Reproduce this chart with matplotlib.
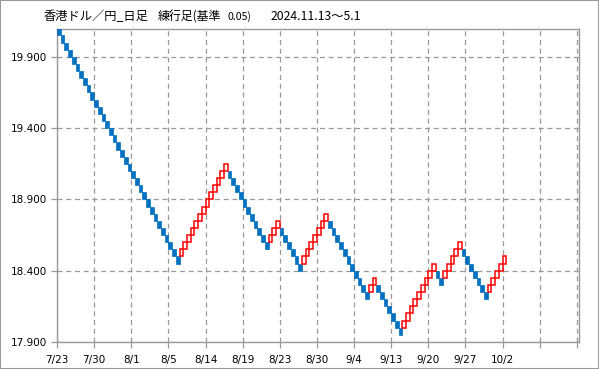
import matplotlib
matplotlib.use("Agg")
import matplotlib.pyplot as plt
from matplotlib.patches import Rectangle

# Renko bricks (0.05 per brick)
brick_size = 0.05
first_brick_low = 20.05
run_directions = [-1, 1, -1, 1, -1, 1, -1, 1, -1, 1, -1, 1, -1, 1]
run_lengths = [33, 13, 11, 3, 6, 7, 11, 2, 7, 9, 2, 5, 7, 5]

date_labels = ["7/23", "7/30", "8/1", "8/5", "8/14", "8/19", "8/23",
               "8/30", "9/4", "9/13", "9/20", "9/27", "10/2", "", ""]
y_ticks = [17.9, 18.4, 18.9, 19.4, 19.9]

# title pieces: (text, x pixel, size)
title_parts = [("香港ドル／円_日足", 44, 8.8),
               ("練行足(基準", 158, 8.6),
               ("0.05)", 228, 7.6),
               ("2024.11.13〜5.1", 271, 8.8)]

# build brick list: each brick moves one brick up or down from the last
lows, dirs = [], []
level = first_brick_low
for d, n in zip(run_directions, run_lengths):
    for k in range(n):
        if lows:
            level = level + d * brick_size
        lows.append(level)
        dirs.append(d)

plt.rcParams['font.family'] = ['DejaVu Sans']
fig = plt.figure(figsize=(5.99, 3.69), dpi=100)
ax = fig.add_axes([57 / 599, 1 - 342 / 369, 522 / 599, 312.7 / 369])

up_x = [i for i, d in enumerate(dirs) if d > 0]
up_y = [lows[i] for i in up_x]
dn_x = [i for i, d in enumerate(dirs) if d < 0]
dn_y = [lows[i] for i in dn_x]

ax.bar(dn_x, [brick_size] * len(dn_x), bottom=dn_y, width=1, align='edge',
       color='#0070C0', edgecolor='#0070C0', linewidth=0.5, zorder=3)
ax.bar(up_x, [brick_size] * len(up_x), bottom=up_y, width=1, align='edge',
       facecolor='white', edgecolor='#FF0000', linewidth=1.1, zorder=3)

ax.set_xlim(0, 140.6)
ax.set_ylim(17.9, 20.093)
ax.set_xticks(range(0, 150, 10))
ax.set_xticklabels(date_labels)
ax.set_yticks(y_ticks)
ax.set_yticklabels([f"{v:.3f}" for v in y_ticks])

ax.grid(True, color='#999999', linestyle=(0, (4, 3)), linewidth=0.9)
ax.set_axisbelow(True)
for s in ax.spines.values():
    s.set_color('#999999')
    s.set_linewidth(1)
ax.tick_params(axis='both', colors='#999999', labelcolor='black',
               length=4, width=0.9, labelsize=7.5)
ax.tick_params(axis='x', pad=5)

for txt, px, sz in title_parts:
    fig.text(px / 599, 1 - 17 / 369, txt, fontsize=sz, va='center', ha='left',
             family=['Noto Sans CJK JP', 'DejaVu Sans'])

fig.patches.append(Rectangle((0, 0), 1, 1, transform=fig.transFigure,
                             fill=False, edgecolor='#999999', linewidth=1.5))

plt.savefig("out.png", dpi=100)
